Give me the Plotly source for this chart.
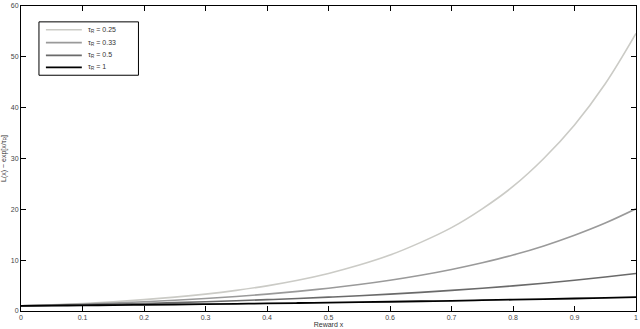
import plotly.graph_objects as go

x_vals = [0, 0.05, 0.1, 0.15, 0.2, 0.25, 0.3, 0.35, 0.4, 0.45, 0.5,
          0.55, 0.6, 0.65, 0.7, 0.75, 0.8, 0.85, 0.9, 0.95, 1.0]

tau_025 = [1, 1.22, 1.49, 1.82, 2.23, 2.72, 3.32, 4.06, 4.95, 6.05, 7.39,
           9.03, 11.0, 13.5, 16.4, 20.1, 24.5, 30.0, 36.6, 44.7, 54.6]
tau_033 = [1, 1.16, 1.35, 1.57, 1.82, 2.12, 2.46, 2.86, 3.32, 3.86, 4.48,
           5.21, 6.05, 7.03, 8.17, 9.49, 11.0, 12.8, 14.9, 17.3, 20.1]
tau_05 = [1, 1.11, 1.22, 1.35, 1.49, 1.65, 1.82, 2.01, 2.23, 2.46, 2.72,
          3.00, 3.32, 3.67, 4.06, 4.48, 4.95, 5.47, 6.05, 6.69, 7.39]
tau_1 = [1, 1.05, 1.11, 1.16, 1.22, 1.28, 1.35, 1.42, 1.49, 1.57, 1.65,
         1.73, 1.82, 1.92, 2.01, 2.12, 2.23, 2.34, 2.46, 2.59, 2.72]

legend_labels = ["τ<sub>R</sub> = 0.25", "τ<sub>R</sub> = 0.33",
                 "τ<sub>R</sub> = 0.5", "τ<sub>R</sub> = 1"]
series_values = [tau_025, tau_033, tau_05, tau_1]
colors = ["#cbcbc6", "#9a9a9a", "#6a6a6a", "#000000"]
widths = [1.6, 1.6, 1.6, 1.8]

fig = go.Figure()
for name, ys, color, w in zip(legend_labels, series_values, colors, widths):
    fig.add_trace(go.Scatter(x=x_vals, y=ys, mode="lines", name=name,
                             showlegend=False,
                             line=dict(color=color, width=w, shape="spline")))

# hand-drawn legend box (MATLAB-style, compact)
legend_box = dict(x0=0.0292, x1=0.191, y0=0.773, y1=0.948)
legend_rows_y = [0.922, 0.880, 0.838, 0.799]
fig.add_shape(type="rect", xref="paper", yref="paper",
              x0=legend_box["x0"], x1=legend_box["x1"],
              y0=legend_box["y0"], y1=legend_box["y1"],
              line=dict(color="black", width=1), fillcolor="white", layer="above")
for name, color, w, yy in zip(legend_labels, colors, widths, legend_rows_y):
    fig.add_shape(type="line", xref="paper", yref="paper",
                  x0=0.0405, x1=0.0989, y0=yy, y1=yy,
                  line=dict(color=color, width=w), layer="above")
    fig.add_annotation(xref="paper", yref="paper", x=0.105, y=yy,
                       xanchor="left", yanchor="middle", showarrow=False,
                       text=name, font=dict(size=7, color="#333333"))

axis_common = dict(showgrid=False, zeroline=False, showline=True,
                   linecolor="black", linewidth=1, mirror="allticks",
                   ticks="inside", ticklen=5, tickcolor="black",
                   ticklabeloverflow="allow",
                   tickfont=dict(size=7, color="#444444"))

fig.update_layout(
    width=640, height=329,
    margin=dict(l=21, r=2, t=3, b=17),
    paper_bgcolor="white", plot_bgcolor="white",
    font=dict(family="Liberation Sans, Arial, sans-serif", size=7, color="#333333"),
    xaxis=dict(range=[0, 1], dtick=0.1, tick0=0,
               title=dict(text="Reward x", font=dict(size=7, color="#333333"), standoff=1),
               **axis_common),
    yaxis=dict(range=[0, 60], dtick=10, tick0=0,
               title=dict(text="L(x) ~ exp[x/τ<sub>R</sub>]", font=dict(size=7, color="#333333"), standoff=4),
               **axis_common),
    showlegend=False,
)

fig.write_html("out.html", config={"displayModeBar": False},
               post_script="document.body.style.margin='0';")
